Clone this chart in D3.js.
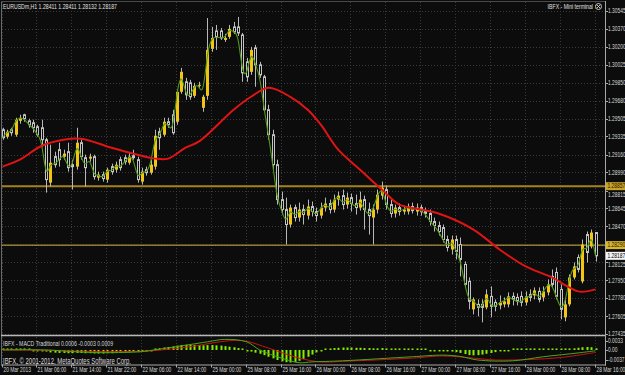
<!DOCTYPE html>
<html><head><meta charset="utf-8">
<script src="https://cdn.jsdelivr.net/npm/d3@7"></script>
<style>html,body{margin:0;padding:0;background:#0c0c0c;overflow:hidden}svg{display:block}</style>
</head><body><svg id="c" width="625" height="375"></svg>
<script>
// ---------- DATA ----------
const symbolTitle = "EURUSDm,H1  1.28411 1.28411 1.28132 1.28187";
const terminalTitle = "IBFX - Mini terminal";
const macdTitle = "IBFX - MACD Traditional 0.0006 -0.0003 0.0009";
const copyright = "IBFX, \u00A9 2001-2012, MetaQuotes Software Corp.";

const timeLabels = ["20 Mar 2013","21 Mar 06:00","21 Mar 14:00","21 Mar 22:00","22 Mar 06:00","22 Mar 14:00",
  "25 Mar 00:00","25 Mar 08:00","25 Mar 16:00","26 Mar 00:00","26 Mar 08:00","26 Mar 16:00",
  "27 Mar 00:00","27 Mar 08:00","27 Mar 16:00","28 Mar 00:00","28 Mar 08:00","28 Mar 16:00"];
const timeLabelBars = [0,8,16,24,32,40,48,56,64,72,80,88,96,104,112,120,128,136];

const priceTicks = ["1.30545","1.30370","1.30200","1.30025","1.29850","1.29680","1.29505","1.29335","1.29160",
  "1.28990","1.28815","1.28645","1.28470","1.28295","1.28125","1.27950","1.27780","1.27605","1.27435"];
const macdTicks = ["0.0033","0.00","-0.0037"];

const levelHigh = 1.28857, levelLow = 1.28290, bidPrice = 1.28187;

const open = [1.29400,1.29333,1.29400,1.29352,1.29486,1.29544,1.29486,1.29467,1.29429,1.29419,
1.29304,1.28891,1.29141,1.29208,1.29141,1.29189,1.29064,1.29045,1.29275,1.29131,
1.29122,1.29141,1.28939,1.28968,1.28920,1.29045,1.29016,1.29112,1.29131,1.29083,
1.29150,1.29112,1.28901,1.29016,1.28987,1.29045,1.29381,1.29352,1.29477,1.29544,
1.29477,1.29765,1.29861,1.29851,1.29726,1.29832,1.29611,1.29726,1.30178,1.30350,
1.30350,1.30264,1.30293,1.30389,1.30389,1.30312,1.30053,1.29957,1.30187,1.30024,
1.29909,1.29592,1.29352,1.29064,1.28728,1.28632,1.28488,1.28651,1.28555,1.28632,
1.28574,1.28661,1.28613,1.28574,1.28651,1.28690,1.28632,1.28728,1.28766,1.28680,
1.28747,1.28690,1.28651,1.28728,1.28632,1.28555,1.28632,1.28766,1.28824,1.28680,
1.28594,1.28651,1.28613,1.28613,1.28661,1.28613,1.28651,1.28613,1.28594,1.28517,
1.28478,1.28459,1.28344,1.28248,1.28344,1.28296,1.28104,1.27941,1.27672,1.27720,
1.27720,1.27691,1.27797,1.27739,1.27710,1.27720,1.27720,1.27797,1.27787,1.27797,
1.27739,1.27816,1.27806,1.27845,1.27787,1.27835,1.27989,1.28027,1.27864,1.27595,
1.27720,1.27979,1.28171,1.27941,1.28392,1.28277,1.28411];
const high = [1.29419,1.29400,1.29419,1.29515,1.29544,1.29554,1.29506,1.29496,1.29448,1.29496,
1.29323,1.29256,1.29189,1.29275,1.29208,1.29275,1.29112,1.29419,1.29304,1.29160,
1.29170,1.29160,1.28997,1.28997,1.29035,1.29074,1.29093,1.29141,1.29160,1.29179,
1.29208,1.29141,1.29035,1.29045,1.29112,1.29400,1.29419,1.29515,1.29515,1.29592,
1.29784,1.29995,1.29899,1.29880,1.29851,1.29861,1.29736,1.30475,1.30389,1.30408,
1.30379,1.30322,1.30408,1.30437,1.30485,1.30331,1.30091,1.30197,1.30216,1.30053,
1.29928,1.29640,1.29400,1.29112,1.28805,1.28747,1.28680,1.28680,1.28699,1.28680,
1.28728,1.28709,1.28651,1.28699,1.28747,1.28728,1.28776,1.28805,1.28824,1.28795,
1.28786,1.28776,1.28805,1.28766,1.28699,1.28680,1.28824,1.28901,1.28862,1.28728,
1.28680,1.28690,1.28670,1.28690,1.28699,1.28690,1.28680,1.28651,1.28632,1.28555,
1.28517,1.28488,1.28382,1.28382,1.28382,1.28363,1.28133,1.27979,1.27787,1.27768,
1.27768,1.27864,1.27893,1.27768,1.27806,1.27787,1.27835,1.27835,1.27826,1.27845,
1.27845,1.27864,1.27883,1.27883,1.27893,1.27960,1.28056,1.28075,1.27912,1.27768,
1.28008,1.28123,1.28200,1.28344,1.28421,1.28440,1.28411];
const low = [1.29304,1.29314,1.29342,1.29333,1.29458,1.29477,1.29419,1.29371,1.29333,1.29237,
1.28795,1.28853,1.29035,1.29045,1.29112,1.28997,1.28824,1.29016,1.29112,1.28853,
1.29093,1.28920,1.28910,1.28901,1.28891,1.28968,1.28987,1.29006,1.29064,1.29064,
1.29112,1.28891,1.28872,1.28958,1.28968,1.29016,1.29208,1.29333,1.29419,1.29352,
1.29448,1.29746,1.29688,1.29688,1.29707,1.29803,1.29573,1.29688,1.30149,1.30168,
1.30264,1.30245,1.30274,1.30322,1.30302,1.29861,1.29861,1.29928,1.29813,1.29899,
1.29573,1.29304,1.29016,1.28680,1.28584,1.28296,1.28459,1.28517,1.28517,1.28488,
1.28536,1.28565,1.28517,1.28546,1.28613,1.28594,1.28603,1.28670,1.28632,1.28642,
1.28613,1.28584,1.28622,1.28440,1.28392,1.28296,1.28594,1.28728,1.28632,1.28555,
1.28555,1.28574,1.28584,1.28584,1.28594,1.28574,1.28574,1.28555,1.28478,1.28421,
1.28382,1.28315,1.28229,1.28200,1.28152,1.27989,1.27883,1.27672,1.27624,1.27605,
1.27547,1.27672,1.27595,1.27653,1.27672,1.27691,1.27691,1.27710,1.27710,1.27701,
1.27710,1.27749,1.27768,1.27739,1.27749,1.27806,1.27883,1.27768,1.27576,1.27557,
1.27701,1.27960,1.28027,1.27922,1.28123,1.28258,1.28132];
const close = [1.29323,1.29381,1.29371,1.29496,1.29515,1.29506,1.29448,1.29419,1.29352,1.29304,
1.28920,1.29083,1.29064,1.29112,1.29170,1.29035,1.29045,1.29275,1.29141,1.29035,
1.29141,1.28949,1.28968,1.28930,1.29016,1.28997,1.29064,1.29035,1.29093,1.29141,
1.29131,1.28920,1.28997,1.28987,1.29064,1.29342,1.29323,1.29477,1.29448,1.29371,
1.29765,1.29957,1.29736,1.29717,1.29822,1.29832,1.29717,1.30168,1.30283,1.30293,
1.30283,1.30283,1.30370,1.30341,1.30331,1.29947,1.29909,1.30168,1.30024,1.29928,
1.29592,1.29352,1.29064,1.28728,1.28632,1.28488,1.28651,1.28555,1.28632,1.28584,
1.28661,1.28613,1.28574,1.28651,1.28690,1.28632,1.28728,1.28766,1.28680,1.28747,
1.28690,1.28651,1.28728,1.28632,1.28574,1.28632,1.28776,1.28843,1.28680,1.28594,
1.28651,1.28613,1.28632,1.28661,1.28622,1.28651,1.28613,1.28594,1.28517,1.28478,
1.28421,1.28344,1.28267,1.28344,1.28229,1.28152,1.27912,1.27749,1.27768,1.27691,
1.27691,1.27816,1.27701,1.27701,1.27739,1.27749,1.27797,1.27768,1.27749,1.27739,
1.27797,1.27787,1.27854,1.27768,1.27845,1.27912,1.27912,1.27797,1.27672,1.27720,
1.27979,1.28085,1.28056,1.28296,1.28219,1.28411,1.28187];

// slow moving average (red), read at selected bars
const slowMABars = [0,4,9,14,18,25,30,35,38,42,45,53,57,61,66,70,73,77,82,87,91,96,100,108,114,120,126,130,132,134,136];
const slowMAVals = [1.29045,1.29112,1.29246,1.29304,1.29314,1.29227,1.29170,1.29122,1.29122,1.29227,1.29285,
  1.29592,1.29717,1.29803,1.29717,1.29592,1.29448,1.29208,1.29016,1.28824,1.28680,1.28632,1.28594,1.28440,
  1.28248,1.28085,1.27979,1.27883,1.27845,1.27845,1.27864];

// MACD panel
const macdHist = [0.0002,0.0002,0.0001,0.0002,0.0002,0.0001,0.0000,-0.0001,-0.0002,-0.0003,
-0.0006,-0.0009,-0.0010,-0.0011,-0.0011,-0.0012,-0.0012,-0.0011,-0.0011,-0.0012,
-0.0012,-0.0013,-0.0013,-0.0013,-0.0012,-0.0012,-0.0011,-0.0010,-0.0010,-0.0009,
-0.0008,-0.0008,-0.0007,-0.0005,-0.0002,0.0003,0.0006,0.0009,0.0011,0.0013,
0.0016,0.0018,0.0019,0.0019,0.0019,0.0018,0.0017,0.0018,0.0018,0.0017,
0.0016,0.0014,0.0012,0.0010,0.0007,0.0003,-0.0002,-0.0006,-0.0010,-0.0014,
-0.0019,-0.0025,-0.0031,-0.0037,-0.0042,-0.0045,-0.0046,-0.0044,-0.0040,-0.0033,
-0.0025,-0.0017,-0.0009,-0.0003,0.0002,0.0005,0.0007,0.0008,0.0009,0.0009,
0.0009,0.0008,0.0008,0.0007,0.0007,0.0006,0.0006,0.0007,0.0006,0.0005,
0.0004,0.0003,0.0002,0.0002,0.0001,0.0001,0.0000,0.0000,-0.0001,-0.0002,
-0.0003,-0.0004,-0.0005,-0.0006,-0.0008,-0.0011,-0.0015,-0.0019,-0.0020,-0.0019,
-0.0017,-0.0014,-0.0011,-0.0008,-0.0005,-0.0003,-0.0001,0.0000,0.0001,0.0002,
0.0002,0.0003,0.0003,0.0003,0.0003,0.0003,0.0003,0.0002,0.0000,0.0001,
0.0004,0.0006,0.0008,0.0010,0.0011,0.0010,0.0006];
const macdMainBars = [0,10,16,22,28,32,36,43,47,51,56,59,64,68,71,78,94,101,105,109,117,124,132,136];
const macdMainVals = [0.0000,0.0000,-0.0006,-0.0010,-0.0009,-0.0006,0.0003,0.0020,0.0030,0.0039,0.0030,0.0000,
  -0.0030,-0.0047,-0.0044,-0.0040,-0.0025,-0.0019,-0.0024,-0.0037,-0.0040,-0.0025,-0.0011,-0.0003];
const macdSignalBars = [0,10,22,34,43,49,53,56,61,68,73,78,94,101,108,113,121,128,136];
const macdSignalVals = [0.0000,-0.0001,-0.0006,-0.0003,0.0012,0.0028,0.0035,0.0032,0.0007,-0.0030,-0.0044,
  -0.0042,-0.0030,-0.0022,-0.0030,-0.0037,-0.0035,-0.0028,-0.0009];

// ---------- DRAW ----------
const svg = d3.select("#c");
const W = 625, H = 375;
const axisX = 605, mainTop = 1, mainBot = 335, macdTop = 337, macdBot = 364.5;
const FONT = "'Liberation Sans', Arial, sans-serif";

svg.append("rect").attr("width", W).attr("height", H).attr("fill", "#0c0c0c");

const x = d3.scaleLinear().domain([0, open.length - 1]).range([2.5, 595.5]);
const y = d3.scaleLinear().domain([1.27435, 1.30545]).range([334, 10.7]);
const ym = d3.scaleLinear().domain([-0.0037, 0.0033]).range([360, 341]);

function txt(g, tx, ty, s, size, color, anchor) {
  return g.append("text")
    .attr("transform", `translate(${tx},${ty}) scale(0.7,1)`)
    .attr("font-family", FONT).attr("font-size", size)
    .attr("fill", color).attr("dominant-baseline", "central")
    .attr("text-anchor", anchor || "start").text(s);
}

const defs = svg.append("defs");
defs.append("clipPath").attr("id", "mainClip").append("rect")
  .attr("x", 1).attr("y", mainTop).attr("width", axisX - 1).attr("height", mainBot - mainTop - 1);
defs.append("clipPath").attr("id", "macdClip").append("rect")
  .attr("x", 1).attr("y", macdTop).attr("width", axisX - 1).attr("height", macdBot - macdTop);

// grid
const grid = svg.append("g").attr("stroke", "#3a3a3a").attr("stroke-width", 1).attr("stroke-dasharray", "1,2");
priceTicks.forEach(t => {
  const yy = Math.round(y(+t)) + 0.5;
  grid.append("line").attr("x1", 2).attr("x2", axisX).attr("y1", yy).attr("y2", yy);
});
timeLabelBars.forEach(b => {
  const xx = Math.round(x(b) - 1) + 0.5;
  grid.append("line").attr("x1", xx).attr("x2", xx).attr("y1", mainTop + 1).attr("y2", mainBot - 1);
  grid.append("line").attr("x1", xx).attr("x2", xx).attr("y1", macdTop).attr("y2", macdBot);
});

// main panel
const main = svg.append("g").attr("clip-path", "url(#mainClip)");

main.append("line").attr("x1", 1).attr("x2", axisX).attr("y1", y(levelHigh)).attr("y2", y(levelHigh))
  .attr("stroke", "#a3821f").attr("stroke-width", 2);
main.append("line").attr("x1", 1).attr("x2", axisX).attr("y1", y(levelLow)).attr("y2", y(levelLow))
  .attr("stroke", "#d6b446").attr("stroke-width", 1);

const bars = d3.range(open.length);
main.append("g").selectAll("line").data(bars).join("line")
  .attr("x1", i => Math.round(x(i)) + 0.5).attr("x2", i => Math.round(x(i)) + 0.5)
  .attr("y1", i => y(high[i])).attr("y2", i => y(low[i]))
  .attr("stroke", "#b8b8b8").attr("stroke-width", 1);
main.append("g").selectAll("rect").data(bars).join("rect")
  .attr("x", i => close[i] >= open[i] ? Math.round(x(i)) - 1 : Math.round(x(i)) - 0.5)
  .attr("width", i => close[i] >= open[i] ? 3 : 2)
  .attr("y", i => Math.min(y(open[i]), y(close[i])))
  .attr("height", i => Math.max(1, Math.abs(y(open[i]) - y(close[i]))))
  .attr("fill", i => close[i] >= open[i] ? "#f2c416" : "#0c0c0c")
  .attr("stroke", i => close[i] >= open[i] ? "none" : "#c4c4c4")
  .attr("stroke-width", 1);

main.append("path").datum(bars)
  .attr("d", d3.line().x(i => x(i)).y(i => y(close[i])).curve(d3.curveBasis))
  .attr("fill", "none").attr("stroke", "#4f9a1a").attr("stroke-width", 1.1);

main.append("path").datum(d3.range(slowMABars.length))
  .attr("d", d3.line().x(k => x(slowMABars[k])).y(k => y(slowMAVals[k])).curve(d3.curveCatmullRom.alpha(0.5)))
  .attr("fill", "none").attr("stroke", "#e01414").attr("stroke-width", 2);

// MACD panel
const mg = svg.append("g").attr("clip-path", "url(#macdClip)");
mg.append("g").selectAll("rect").data(bars).join("rect")
  .attr("x", i => Math.round(x(i)) - 0.5).attr("width", 2)
  .attr("y", i => macdHist[i] >= 0 ? Math.min(ym(macdHist[i]), ym(0) - 1.5) : ym(0))
  .attr("height", i => Math.max(1.5, Math.abs(ym(macdHist[i]) - ym(0))))
  .attr("fill", "#84f000");
mg.append("path").datum(d3.range(macdSignalBars.length))
  .attr("d", d3.line().x(k => x(macdSignalBars[k])).y(k => ym(macdSignalVals[k])).curve(d3.curveCatmullRom.alpha(0.5)))
  .attr("fill", "none").attr("stroke", "#c81414").attr("stroke-width", 1);
mg.append("path").datum(d3.range(macdMainBars.length))
  .attr("d", d3.line().x(k => x(macdMainBars[k])).y(k => ym(macdMainVals[k])).curve(d3.curveCatmullRom.alpha(0.5)))
  .attr("fill", "none").attr("stroke", "#4fa31c").attr("stroke-width", 1);

// frame lines
const frame = svg.append("g").attr("fill", "none");
frame.append("line").attr("x1", 1.5).attr("x2", 1.5).attr("y1", 1).attr("y2", macdBot).attr("stroke", "#6a6a6a");
frame.append("line").attr("x1", 1).attr("x2", axisX).attr("y1", 1.5).attr("y2", 1.5).attr("stroke", "#4a4a4a");
frame.append("line").attr("x1", axisX + 0.5).attr("x2", axisX + 0.5).attr("y1", 1).attr("y2", macdBot + 1).attr("stroke", "#a8a8a8");
frame.append("line").attr("x1", 1).attr("x2", axisX).attr("y1", 335.5).attr("y2", 335.5).attr("stroke", "#b8b8b8").attr("stroke-width", 1.6);
frame.append("line").attr("x1", 1).attr("x2", axisX + 1).attr("y1", macdBot + 0.5).attr("y2", macdBot + 0.5).attr("stroke", "#a8a8a8");

// price axis labels (nudged away from the level tags they would collide with)
const ax = svg.append("g");
const tagYs = [levelHigh, levelLow, bidPrice].map(v => y(v));
priceTicks.forEach(t => {
  const yy = y(+t);
  ax.append("line").attr("x1", axisX).attr("x2", axisX + 3).attr("y1", Math.round(yy) + 0.5).attr("y2", Math.round(yy) + 0.5).attr("stroke", "#a8a8a8");
  let ly = yy, hidden = false;
  tagYs.forEach(ty => {
    const d = ly - ty;
    if (Math.abs(d) < 2) hidden = true;
    else if (Math.abs(d) < 8.5) ly = ty + (d > 0 ? 8.5 : -8.5);
  });
  if (!hidden) txt(ax, 608, ly, t, 7, "#d8d8d8");
});
function levelLabel(v, fill, txtColor) {
  const yy = y(v);
  ax.append("rect").attr("x", 606).attr("y", yy - 4).attr("width", 19).attr("height", 8).attr("fill", fill);
  txt(ax, 607.5, yy, v.toFixed(5), 7, txtColor);
}
levelLabel(levelHigh, "#c9a227", "#1a1400");
levelLabel(levelLow, "#d9b52e", "#1a1400");
levelLabel(bidPrice, "#f4f4f4", "#000000");

macdTicks.forEach(t => {
  const yy = ym(+t);
  ax.append("line").attr("x1", axisX).attr("x2", axisX + 3).attr("y1", Math.round(yy) + 0.5).attr("y2", Math.round(yy) + 0.5).attr("stroke", "#a8a8a8");
  txt(ax, 608, yy, t, 7, "#d8d8d8");
});

timeLabels.forEach((s, k) => {
  const xx = Math.round(x(timeLabelBars[k]) - 1) + 0.5;
  ax.append("line").attr("x1", xx).attr("x2", xx).attr("y1", macdBot).attr("y2", macdBot + 3).attr("stroke", "#a8a8a8");
  txt(ax, xx + 1, 369.5, s, 7, "#d8d8d8");
});

// titles
txt(svg, 3, 6.5, symbolTitle, 7.4, "#e0e0e0");
txt(svg, 593, 6.5, terminalTitle, 7.4, "#e0e0e0", "end");
svg.append("circle").attr("cx", 598.5).attr("cy", 6.5).attr("r", 3).attr("fill", "none").attr("stroke", "#d8d8d8").attr("stroke-width", 0.9);
svg.append("path").attr("d", "M597,5L600,8M600,5L597,8").attr("stroke", "#d8d8d8").attr("stroke-width", 0.9);
txt(svg, 3, 343, macdTitle, 7.4, "#d8d8d8");
txt(svg, 3, 361.5, copyright, 8.5, "#d8d8d8");
</script></body></html>
